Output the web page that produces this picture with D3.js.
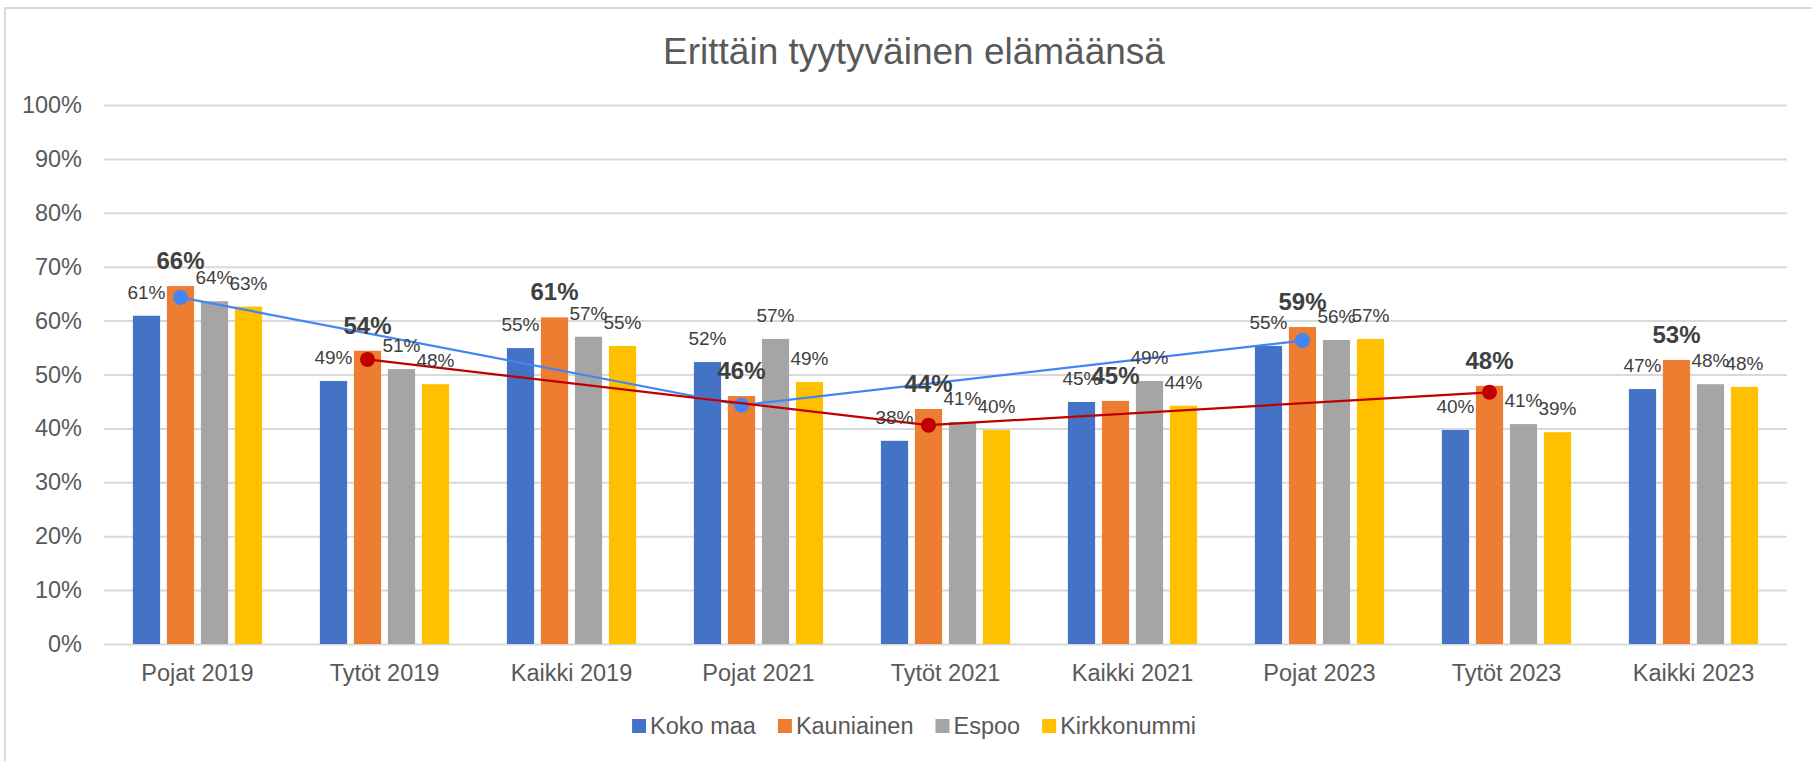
<!DOCTYPE html>
<html>
<head>
<meta charset="utf-8">
<script src="https://cdn.jsdelivr.net/npm/d3@7"></script>
<style>
  body { margin: 0; background: #fff; }
  svg { display: block; font-family: "Liberation Sans", Arial, sans-serif; }
</style>
</head>
<body>
<svg id="chart" width="1812" height="761"></svg>
<script>
// data
var categories = ["Pojat 2019", "Tytöt 2019", "Kaikki 2019", "Pojat 2021", "Tytöt 2021", "Kaikki 2021", "Pojat 2023", "Tytöt 2023", "Kaikki 2023"];
var series = ["Koko maa", "Kauniainen", "Espoo", "Kirkkonummi"];
var colors = ["#4472C4", "#ED7D31", "#A5A5A5", "#FFC000"];
var kokoMaa     = [60.9, 48.8, 54.9, 52.3, 37.7, 44.9, 55.3, 39.7, 47.3];
var kauniainen  = [66.4, 54.4, 60.6, 46.0, 43.6, 45.1, 58.8, 47.9, 52.7];
var espoo       = [63.6, 51.0, 57.0, 56.6, 41.2, 48.8, 56.4, 40.8, 48.2];
var kirkkonummi = [62.6, 48.2, 55.3, 48.6, 39.7, 44.2, 56.6, 39.3, 47.7];
var values = [kokoMaa, kauniainen, espoo, kirkkonummi];

var poikaCats = ["Pojat 2019", "Pojat 2021", "Pojat 2023"];
var poikaLine = [64.3, 44.3, 56.3];
var tyttoCats = ["Tytöt 2019", "Tytöt 2021", "Tytöt 2023"];
var tyttoLine = [52.8, 40.6, 46.7];

var yTicks = [0, 10, 20, 30, 40, 50, 60, 70, 80, 90, 100];

var svg = d3.select("#chart");
var plotLeft = 104, plotRight = 1787, plotTop = 105, plotBottom = 644;

// chart border (runs off the right and bottom edge)
svg.append("rect")
  .attr("x", 5).attr("y", 8)
  .attr("width", 1900).attr("height", 900)
  .attr("fill", "none").attr("stroke", "#d9d9d9").attr("stroke-width", 2);

svg.append("text")
  .attr("x", 914).attr("y", 64)
  .attr("text-anchor", "middle")
  .attr("fill", "#595959")
  .style("font-size", "37px")
  .text("Erittäin tyytyväinen elämäänsä");

var y = d3.scaleLinear().domain([0, 100]).range([plotBottom, plotTop]);
var x0 = d3.scaleBand().domain(categories).range([plotLeft, plotRight]).padding(0);
var x1 = d3.scaleBand().domain(series).range([0, x0.bandwidth()])
  .paddingInner(0.2).paddingOuter(0.85);

// grid + y labels
var yAxis = svg.append("g")
  .attr("transform", "translate(" + plotLeft + ",0)")
  .call(d3.axisLeft(y).tickValues(yTicks).tickSize(-(plotRight - plotLeft)).tickPadding(22)
    .tickFormat(function(d){ return d + "%"; }));
yAxis.select(".domain").remove();
yAxis.selectAll("line").attr("stroke", "#d9d9d9").attr("stroke-width", 2);
yAxis.selectAll("text").attr("fill", "#595959").style("font-size", "23.5px")
  .style("font-family", "Liberation Sans, Arial, sans-serif");

// x labels
var xAxis = svg.append("g")
  .attr("transform", "translate(0," + plotBottom + ")")
  .call(d3.axisBottom(x0).tickSize(0).tickPadding(22));
xAxis.select(".domain").remove();
xAxis.selectAll("text").attr("fill", "#595959").style("font-size", "23.5px")
  .style("font-family", "Liberation Sans, Arial, sans-serif")
  .attr("dy", "0.71em").attr("y", 20);

// bars
series.forEach(function(s, si){
  svg.append("g").selectAll("rect")
    .data(values[si])
    .enter().append("rect")
    .attr("x", function(d, i){ return x0(categories[i]) + x1(s); })
    .attr("y", function(d){ return y(d); })
    .attr("width", x1.bandwidth())
    .attr("height", function(d){ return y(0) - y(d); })
    .attr("fill", colors[si]);
});

// trend lines over the Kauniainen bars
function drawTrend(cats, vals, color){
  var pts = cats.map(function(c, i){
    return [x0(c) + x1("Kauniainen") + x1.bandwidth() / 2, y(vals[i])];
  });
  svg.append("path")
    .attr("d", d3.line()(pts))
    .attr("fill", "none").attr("stroke", color).attr("stroke-width", 2.2);
  svg.append("g").selectAll("circle")
    .data(pts).enter().append("circle")
    .attr("cx", function(d){ return d[0]; })
    .attr("cy", function(d){ return d[1]; })
    .attr("r", 7.5)
    .attr("fill", color);
}
drawTrend(poikaCats, poikaLine, "#4285F4");
drawTrend(tyttoCats, tyttoLine, "#C00000");

// data labels
series.forEach(function(s, si){
  var bold = s == "Kauniainen";
  svg.append("g").selectAll("text")
    .data(values[si])
    .enter().append("text")
    .attr("x", function(d, i){ return x0(categories[i]) + x1(s) + x1.bandwidth() / 2; })
    .attr("y", function(d){ return y(d) - 17; })
    .attr("text-anchor", "middle")
    .attr("fill", "#404040")
    .style("font-size", bold ? "24px" : "19px")
    .style("font-weight", bold ? "bold" : "normal")
    .text(function(d){ return Math.round(d) + "%"; });
});

// legend
var legend = svg.append("g");
var lx = 0;
series.forEach(function(s, si){
  var item = legend.append("g").attr("transform", "translate(" + lx + ",0)");
  item.append("rect").attr("x", 0).attr("y", 719).attr("width", 14).attr("height", 14).attr("fill", colors[si]);
  var t = item.append("text").attr("x", 18).attr("y", 734)
    .attr("fill", "#595959").style("font-size", "23.5px").text(s);
  lx += 18 + t.node().getComputedTextLength() + 22;
});
var legendWidth = lx - 22;
legend.attr("transform", "translate(" + (914 - legendWidth / 2) + ",0)");
</script>
</body>
</html>
